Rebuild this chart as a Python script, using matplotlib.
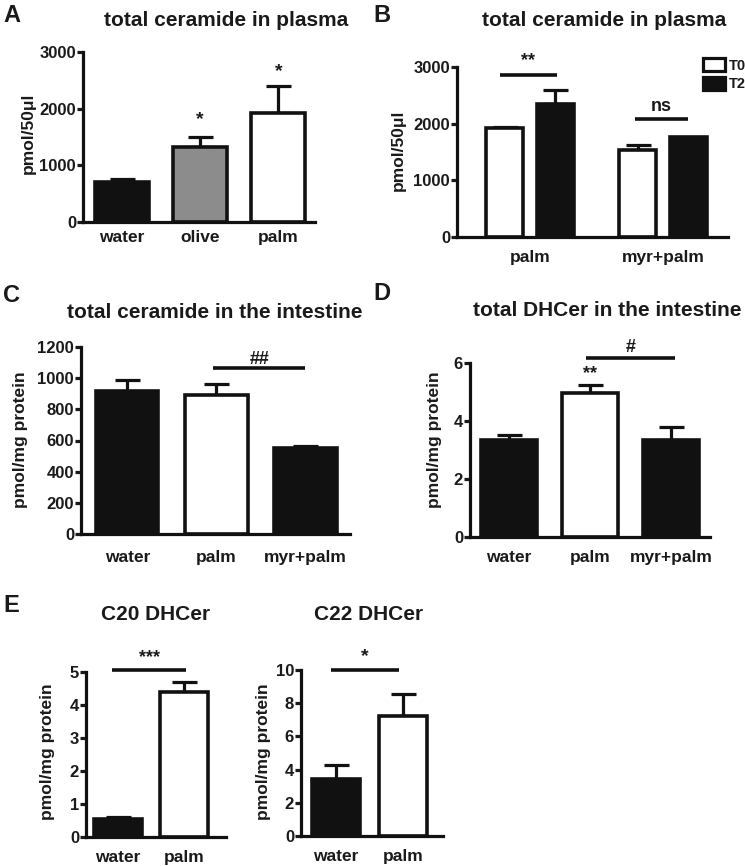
import matplotlib
matplotlib.use("Agg")
import matplotlib.pyplot as plt
from matplotlib.patches import Patch

plt.rcParams['font.family'] = ['Liberation Sans', 'DejaVu Sans']
plt.rcParams['font.weight'] = 'bold'
plt.rcParams['text.color'] = '#1a1a1a'
plt.rcParams['axes.labelcolor'] = '#1a1a1a'
plt.rcParams['xtick.color'] = '#1a1a1a'
plt.rcParams['ytick.color'] = '#1a1a1a'

W, H = 745, 866
BLACK = '#111111'
GREY = '#8c8c8c'

# ---- data ----
a_groups = ['water', 'olive', 'palm']
a_mean = [700, 1320, 1920]
a_err = [60, 180, 480]

b_groups = ['palm', 'myr+palm']
b_t0 = [1930, 1540]
b_t0_err = [20, 80]
b_t2 = [2340, 1760]
b_t2_err = [260, 0]

c_groups = ['water', 'palm', 'myr+palm']
c_mean = [920, 895, 550]
c_err = [70, 65, 15]

d_groups = ['water', 'palm', 'myr+palm']
d_mean = [3.35, 4.95, 3.35]
d_err = [0.17, 0.3, 0.45]

e_groups = ['water', 'palm']
c20_mean = [0.55, 4.4]
c20_err = [0.05, 0.3]
c22_mean = [3.45, 7.2]
c22_err = [0.85, 1.35]

fig = plt.figure(figsize=(W / 100, H / 100), dpi=100)


def px_axes(left, right, top, bottom):
    return fig.add_axes([left / W, 1 - bottom / H, (right - left) / W, (bottom - top) / H])


def style(ax, ymax, yticks, xlim, xpad):
    ax.set_ylim(0, ymax)
    ax.set_xlim(*xlim)
    ax.set_yticks(yticks)
    for s in ['top', 'right']:
        ax.spines[s].set_visible(False)
    for s in ['left', 'bottom']:
        ax.spines[s].set_linewidth(2.3)
        ax.spines[s].set_color(BLACK)
    ax.tick_params(axis='y', length=4, width=2.3, pad=1, labelsize=12)
    ax.tick_params(axis='x', length=0, pad=xpad, labelsize=12.5)
    for lab in ax.get_xticklabels() + ax.get_yticklabels():
        lab.set_fontweight('bold')


def bars(ax, x, vals, errs, colors, width):
    ax.bar(x, vals, width=width, color=colors, edgecolor=BLACK, linewidth=2.6, zorder=2)
    for xi, v, e in zip(x, vals, errs):
        if e > 0:
            ax.errorbar(xi, v, yerr=[[0], [e]], fmt='none', ecolor=BLACK,
                        elinewidth=2.3, capsize=9, capthick=2.3, zorder=1)


def ylabel(ax, text, xpx, ypx):
    ax.set_ylabel(text, fontsize=12.5, fontweight='bold')
    ax.yaxis.set_label_coords(xpx / W, 1 - ypx / H, transform=fig.transFigure)


def sig(ax, x0, x1, y, ty, text, fs=13):
    ax.plot([x0, x1], [y, y], color=BLACK, lw=2.6, clip_on=False, solid_capstyle='butt')
    ax.text((x0 + x1) / 2, ty, text, ha='center', va='center', fontsize=fs, fontweight='bold', clip_on=False)


def ftext(x, y, s, size, ha='center'):
    fig.text(x / W, 1 - y / H, s, ha=ha, va='center', fontsize=size, fontweight='bold')


# ---- A ----
ax = px_axes(83, 315, 52, 222)
xa = list(range(len(a_groups)))
bars(ax, xa, a_mean, a_err, [BLACK, GREY, 'white'], 0.69)
style(ax, 3000, [0, 1000, 2000, 3000], (-0.5, 2.47), 5.5)
ax.set_xticks(xa, a_groups)
ylabel(ax, 'pmol/50μl', 36, 133)
ax.text(1, 1800, '*', ha='center', va='center', fontsize=14, fontweight='bold')
ax.text(2, 2650, '*', ha='center', va='center', fontsize=14, fontweight='bold')
ftext(226, 21, 'total ceramide in plasma', 15)
ftext(3, 15, 'A', 17, ha='left')

# ---- B ----
ax = px_axes(457, 728, 67, 237)
xb = list(range(len(b_groups)))
off = 0.19
b0 = [x - off for x in xb]
b1 = [x + off for x in xb]
bars(ax, b0, b_t0, b_t0_err, ['white'] * 2, 0.28)
bars(ax, b1, b_t2, b_t2_err, [BLACK] * 2, 0.28)
style(ax, 3000, [0, 1000, 2000, 3000], (-0.55, 1.49), 9.5)
ax.set_xticks(xb, b_groups)
ylabel(ax, 'pmol/50μl', 406, 150)
sig(ax, -0.23, 0.2, 2860, 3110, '**', 13)
sig(ax, 0.79, 1.19, 2080, 2300, 'ns', 13)
handles = [Patch(facecolor='white', edgecolor=BLACK, linewidth=2.3, label='T0'),
           Patch(facecolor=BLACK, edgecolor=BLACK, linewidth=2.3, label='T2')]
fig.legend(handles=handles, loc='upper left', bbox_to_anchor=(703 / W, 1 - 58 / H),
           frameon=False, borderpad=0, borderaxespad=0, handlelength=1.5, handleheight=1.0,
           handletextpad=0.25, labelspacing=0.3, prop={'weight': 'bold', 'size': 10.5})
ftext(604, 21, 'total ceramide in plasma', 15)
ftext(373, 15, 'B', 17, ha='left')

# ---- C ----
ax = px_axes(81, 350, 347, 534)
xc = list(range(len(c_groups)))
bars(ax, xc, c_mean, c_err, [BLACK, 'white', BLACK], 0.70)
style(ax, 1200, [0, 200, 400, 600, 800, 1000, 1200], (-0.52, 2.5), 11.5)
ax.set_xticks(xc, c_groups)
ylabel(ax, 'pmol/mg protein', 28, 440)
sig(ax, 0.96, 2.0, 1065, 1120, '##', 13)
ftext(215, 313, 'total ceramide in the intestine', 15)
ftext(3, 296, 'C', 17, ha='left')

# ---- D ----
ax = px_axes(470, 710, 363, 537)
xd = list(range(len(d_groups)))
bars(ax, xd, d_mean, d_err, [BLACK, 'white', BLACK], 0.69)
style(ax, 6, [0, 2, 4, 6], (-0.48, 2.48), 9.5)
ax.set_xticks(xd, d_groups)
ylabel(ax, 'pmol/mg protein', 442, 440)
sig(ax, 0.95, 2.05, 6.17, 6.55, '#', 13)
ax.text(1, 5.62, '**', ha='center', va='center', fontsize=13, fontweight='bold')
ftext(607, 310, 'total DHCer in the intestine', 15)
ftext(373, 293, 'D', 17, ha='left')

# ---- E left ----
ax = px_axes(86, 226, 672, 837)
xe = list(range(len(e_groups)))
bars(ax, xe, c20_mean, c20_err, [BLACK, 'white'], 0.73)
style(ax, 5, [0, 1, 2, 3, 4, 5], (-0.48, 1.64), 9.5)
ax.set_xticks(xe, e_groups)
ylabel(ax, 'pmol/mg protein', 55, 752)
sig(ax, -0.08, 1.04, 5.06, 5.45, '***', 13)
ftext(156, 615, 'C20 DHCer', 15)
ftext(3, 606, 'E', 17, ha='left')

# ---- E right ----
ax = px_axes(301, 443, 670, 836)
bars(ax, xe, c22_mean, c22_err, [BLACK, 'white'], 0.71)
style(ax, 10, [0, 2, 4, 6, 8, 10], (-0.52, 1.59), 9.5)
ax.set_xticks(xe, e_groups)
ylabel(ax, 'pmol/mg protein', 271, 752)
sig(ax, -0.07, 0.94, 10.0, 10.8, '*', 14)
ftext(369, 615, 'C22 DHCer', 15)

fig.savefig('out.png', dpi=100)
